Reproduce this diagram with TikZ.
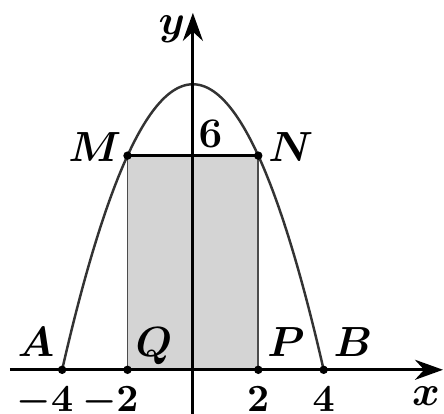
\documentclass[tikz,border=0pt]{standalone}
\usetikzlibrary{arrows.meta}
\begin{document}
\begin{tikzpicture}[x=0.327cm, y=0.357cm, >={Stealth[length=2.8mm,width=2mm]}, every node/.style={font=\fontsize{12}{14}\selectfont\boldmath, inner sep=0pt}]
        \useasboundingbox (-5.90,-1.232) rectangle (7.68,10.36);
        \coordinate (A) at (-4,0);
        \coordinate (Q) at (-2,0);
        \coordinate (P) at (2,0);
        \coordinate (B) at (4,0);
        \coordinate (M) at (-2,6);
        \coordinate (N) at (2,6);
        \coordinate (xs) at (-5.6,0);
        \coordinate (xe) at (7.65,0);
        \coordinate (ys) at (0,-1.232);
        \coordinate (ye) at (0,10);
        \fill[black!17] (Q) rectangle (N);
        \draw[black!70, line width=0.55pt] (Q) -- (M) (P) -- (N);
        \draw[line width=0.65pt] (M) -- (N);
        \draw[black!80, line width=0.7pt, domain=-4:4, smooth, samples=60] plot (\x, {8-\x*\x/2});
        \draw[->, line width=0.9pt] (xs) -- (xe);
        \draw[->, line width=0.9pt] (ys) -- (ye);
        \foreach \p in {A, Q, P, B, M, N} {
            \fill (\p) circle (1.2pt);
        }
        \foreach \v/\t/\n in {-4/{\llap{$-$}4}/m4, -2/{\llap{$-$}2}/m2, 2/2/p2, 4/4/p4} {
            \node[anchor=north, font=\fontsize{11}{13}\selectfont\boldmath] (t\n) at (\v,-0.45) {$\t$};
        }
        \node[anchor=base east] (lA) at (-4.22,0.36) {$A$};
        \node[anchor=base west] (lQ) at (-1.77,0.36) {$Q$};
        \node[anchor=base west] (lP) at (2.26,0.36)  {$P$};
        \node[anchor=base west] (lB) at (4.28,0.36)  {$B$};
        \node[anchor=base east] (lM) at (-2.17,5.83) {$M$};
        \node[anchor=base west] (lN) at (2.29,5.83)  {$N$};
        \node[anchor=south west] (l6) at (0.15,6.22) {$6$};
        \node (lx) at (7.13,-0.74) {$x$};
        \node (ly) at (-0.64,9.55) {$y$};
    \end{tikzpicture}
\end{document}
